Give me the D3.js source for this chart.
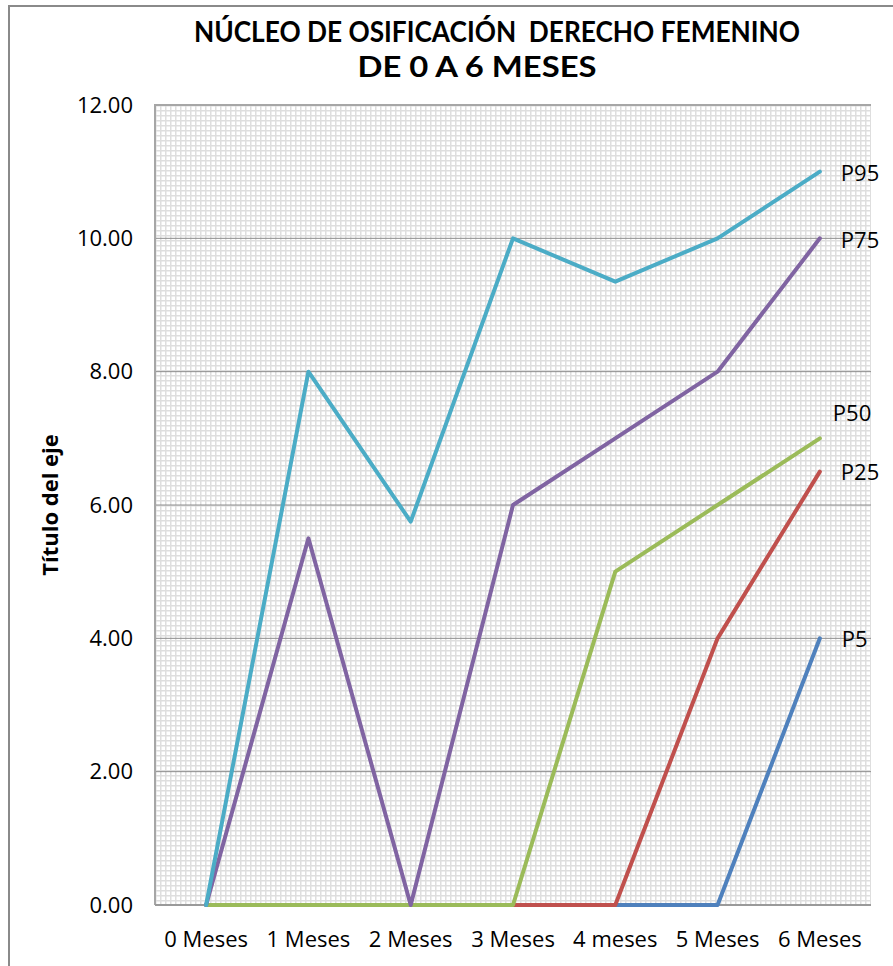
<!DOCTYPE html>
<html>
<head>
<meta charset="utf-8">
<script src="https://cdn.jsdelivr.net/npm/d3@7"></script>
<style>
  html, body { margin: 0; padding: 0; background: #fff; }
  svg { display: block; }
  .title text { white-space: pre; }
</style>
</head>
<body>
<svg id="chart" width="893" height="966"></svg>
<script>
// Categories (months) and percentile series
const categories = ["0 Meses", "1 Meses", "2 Meses", "3 Meses", "4 meses", "5 Meses", "6 Meses"];
const seriesNames = ["P5", "P25", "P50", "P75", "P95"];
const p5  = [0, 0, 0, 0, 0, 0, 4];
const p25 = [0, 0, 0, 0, 0, 4, 6.5];
const p50 = [0, 0, 0, 0, 5, 6, 7];
const p75 = [0, 5.5, 0, 6, 7, 8, 10];
const p95 = [0, 8, 5.75, 10, 9.35, 10, 11];
const yTicks = [0, 2, 4, 6, 8, 10, 12];
const colors = ["#4F81BD", "#C0504D", "#9BBB59", "#8064A2", "#4BACC6"];
const titleLines = ["NÚCLEO DE OSIFICACIÓN  DERECHO FEMENINO", "DE 0 A 6 MESES"];
const yAxisTitle = "Título del eje";

const series = [p5, p25, p50, p75, p95].map((vals, i) => ({
  name: seriesNames[i], color: colors[i], values: vals
}));

const FONT = "'Open Sans', sans-serif";
const svg = d3.select("#chart");
const plot = { left: 155, top: 105, right: 871, bottom: 905 };

// Chart frame
svg.append("rect")
  .attr("x", 9).attr("y", 6).attr("width", 900).attr("height", 1000)
  .attr("fill", "#fff").attr("stroke", "#8a8a8a").attr("stroke-width", 2);

// Title (two lines, keeping the double space)
const titleG = svg.append("g").attr("class", "title")
  .attr("font-family", "Lato, 'Open Sans', sans-serif")
  .attr("font-weight", "bold").attr("fill", "#000").attr("text-anchor", "middle");
titleG.append("text").attr("xml:space", "preserve")
  .attr("x", 497).attr("y", 42).attr("font-size", 29)
  .attr("textLength", 606).attr("lengthAdjust", "spacingAndGlyphs").text(titleLines[0]);
titleG.append("text").attr("xml:space", "preserve")
  .attr("x", 477).attr("y", 77).attr("font-size", 29)
  .attr("textLength", 239).attr("lengthAdjust", "spacingAndGlyphs").text(titleLines[1]);

const x = d3.scaleBand().domain(categories).range([plot.left, plot.right]);
const y = d3.scaleLinear().domain([0, 12]).range([plot.bottom, plot.top]);
const cx = c => x(c) + x.bandwidth() / 2;

// Fine grid fill of the plot area
const defs = svg.append("defs");
const pat = defs.append("pattern").attr("id", "fineGrid")
  .attr("patternUnits", "userSpaceOnUse").attr("width", 5).attr("height", 5)
  .attr("x", plot.left).attr("y", plot.top);
pat.append("rect").attr("width", 5).attr("height", 5).attr("fill", "#fff");
pat.append("rect").attr("x", 0).attr("y", 0).attr("width", 1.5).attr("height", 5).attr("fill", "#dedede");
pat.append("rect").attr("x", 0).attr("y", 0).attr("width", 5).attr("height", 1.5).attr("fill", "#dedede");

svg.append("rect")
  .attr("x", plot.left).attr("y", plot.top)
  .attr("width", plot.right - plot.left).attr("height", plot.bottom - plot.top)
  .attr("fill", "url(#fineGrid)");

// Major horizontal gridlines
svg.append("g").selectAll("line").data(yTicks.filter(d => d > 0 && d < 12)).join("line")
  .attr("x1", plot.left).attr("x2", plot.right)
  .attr("y1", d => y(d)).attr("y2", d => y(d))
  .attr("stroke", "#8c8c8c").attr("stroke-width", 1);

// Plot area border (top and left)
svg.append("path")
  .attr("d", `M${plot.left},${plot.bottom}V${plot.top}H${plot.right}`)
  .attr("fill", "none").attr("stroke", "#a6a6a6").attr("stroke-width", 2);

// Y axis labels
const yAxis = d3.axisLeft(y).tickValues(yTicks).tickFormat(d3.format(".2f")).tickSize(0).tickPadding(0);
const yG = svg.append("g").attr("transform", `translate(133,0)`).call(yAxis);
yG.select(".domain").remove();
yG.selectAll("text").attr("font-family", FONT).attr("font-size", 22).attr("fill", "#000");

// X axis line and labels
svg.append("line")
  .attr("x1", plot.left).attr("x2", plot.right)
  .attr("y1", plot.bottom).attr("y2", plot.bottom)
  .attr("stroke", "#9a9a9a").attr("stroke-width", 2);
const xAxis = d3.axisBottom(x).tickSize(0).tickPadding(26);
const xG = svg.append("g").attr("transform", `translate(0,${plot.bottom})`).call(xAxis);
xG.select(".domain").remove();
xG.selectAll("text").attr("font-family", FONT).attr("font-size", 22).attr("fill", "#000");

// Y axis title
svg.append("text")
  .attr("transform", `translate(58,505) rotate(-90)`)
  .attr("text-anchor", "middle")
  .attr("font-family", FONT).attr("font-weight", "bold")
  .attr("font-size", 22).attr("fill", "#000")
  .text(yAxisTitle);

// Series lines
const line = d3.line().x((d, i) => cx(categories[i])).y(d => y(d));
svg.append("g").selectAll("path").data(series).join("path")
  .attr("d", s => line(s.values))
  .attr("fill", "none").attr("stroke", s => s.color)
  .attr("stroke-width", 4).attr("stroke-linejoin", "round").attr("stroke-linecap", "round");

// End labels
const labelOffsets = { P5: [22, 1], P25: [21, 1], P50: [13, -25], P75: [21, 2], P95: [21, 2] };
svg.append("g").selectAll("text").data(series).join("text")
  .attr("x", s => cx(categories[categories.length - 1]) + labelOffsets[s.name][0])
  .attr("y", s => y(s.values[s.values.length - 1]) + labelOffsets[s.name][1])
  .attr("dy", "0.35em")
  .attr("font-family", FONT).attr("font-size", 22).attr("fill", "#000")
  .text(s => s.name);
</script>
</body>
</html>
